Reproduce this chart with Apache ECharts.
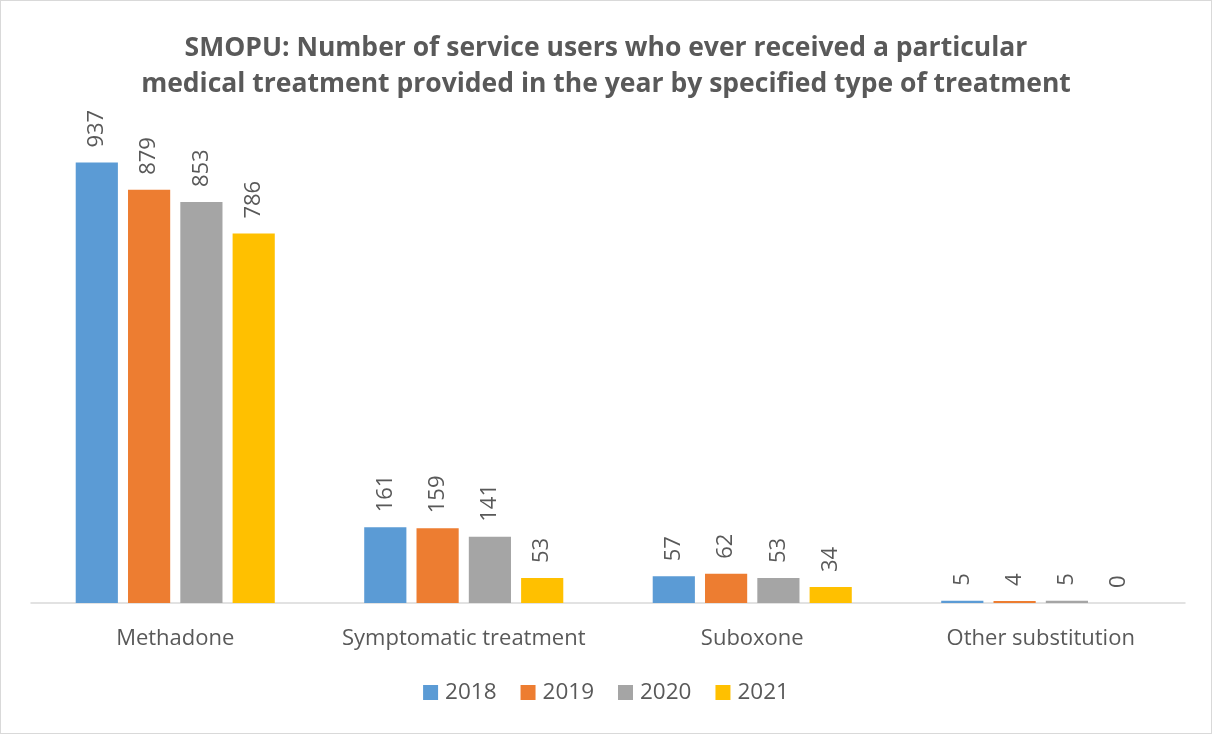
<!DOCTYPE html>
<html><head><meta charset="utf-8">
<script src="https://cdn.jsdelivr.net/npm/echarts@6/dist/echarts.min.js"></script>
<style>html,body{margin:0;padding:0;background:#fff}#c{position:absolute;left:0;top:0;width:1210px;height:732px;border:1px solid #d9d9d9}</style>
</head><body><div id="c"></div>
<script>
const categories = ['Methadone', 'Symptomatic treatment', 'Suboxone', 'Other substitution'];
const years = ['2018', '2019', '2020', '2021'];
const v2018 = [937, 161, 57, 5];
const v2019 = [879, 159, 62, 4];
const v2020 = [853, 141, 53, 5];
const v2021 = [786, 53, 34, 0];
const colors = ['#5b9bd5', '#ed7d31', '#a5a5a5', '#ffc000'];
const seriesData = [v2018, v2019, v2020, v2021];
const font = '"Open Sans", sans-serif';
const chart = echarts.init(document.getElementById('c'));
chart.setOption({
  animation: false,
  title: {
    text: 'SMOPU: Number of service users who ever received a particular\nmedical treatment provided in the year by specified type of treatment',
    left: 'center', top: 24,
    textStyle: { fontFamily: font, fontSize: 26.5, fontWeight: 'bold', color: '#595959', lineHeight: 36 }
  },
  legend: {
    bottom: 24, left: 'center', itemWidth: 15, itemHeight: 15, itemGap: 24, icon: 'rect',
    textStyle: { fontFamily: font, fontSize: 22.5, color: '#595959', padding: [0, 0, 0, 2] },
    data: years
  },
  grid: { left: 30, right: 26, top: 132, bottom: 130 },
  xAxis: {
    type: 'category', data: categories,
    axisLine: { lineStyle: { color: '#d9d9d9', width: 1.5 } },
    axisTick: { show: false },
    axisLabel: { interval: 0, fontFamily: font, fontSize: 22, color: '#595959', margin: 25 }
  },
  yAxis: { type: 'value', min: 0, max: 1000, show: false, splitLine: { show: false } },
  series: years.map((y, i) => ({
    name: y, type: 'bar', data: seriesData[i],
    barGap: '24%', barCategoryGap: '31%',
    itemStyle: { color: colors[i] },
    label: { show: true, position: 'top', rotate: 90, align: 'left', verticalAlign: 'middle', distance: 15,
      fontFamily: font, fontSize: 22, color: '#595959' }
  }))
});
</script></body></html>
